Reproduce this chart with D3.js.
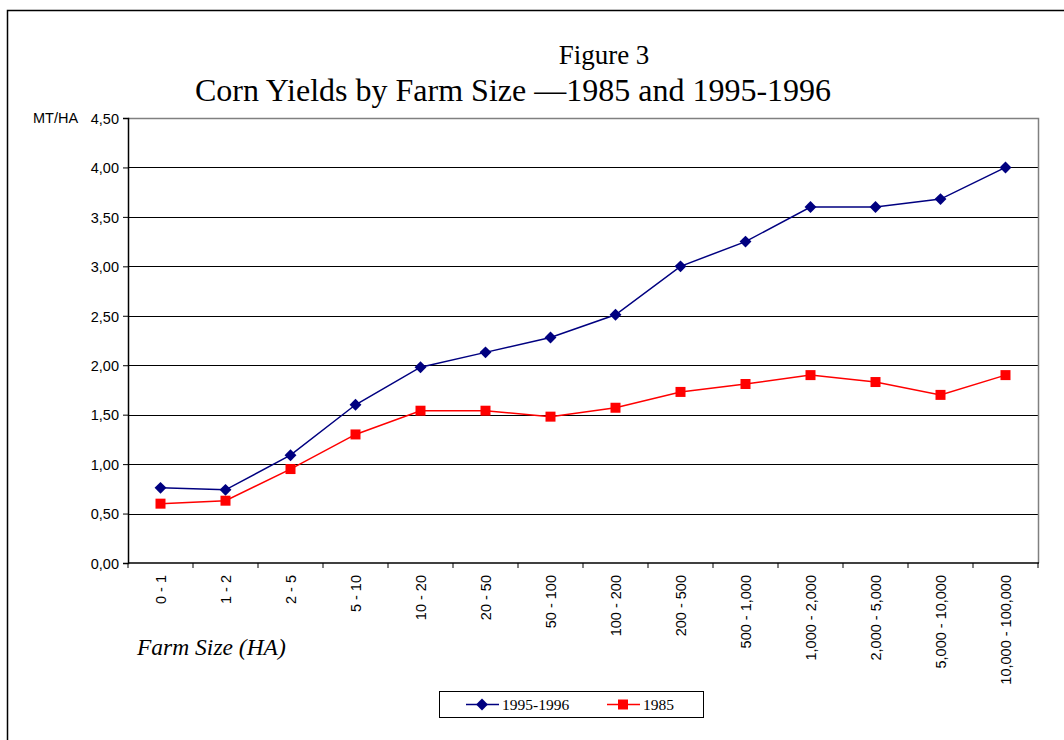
<!DOCTYPE html>
<html>
<head>
<meta charset="utf-8">
<script src="https://cdn.jsdelivr.net/npm/d3@7"></script>
<style>
	body { margin: 0; background: #fff; }
	svg { display: block; }
</style>
</head>
<body>
<div id="chart"></div>
<script>
// corn yields by farm size, two survey periods
const farmSizes = ['0 - 1', '1 - 2', '2 - 5', '5 - 10', '10 - 20', '20 - 50', '50 - 100', '100 - 200',
	'200 - 500', '500 - 1,000', '1,000 - 2,000', '2,000 - 5,000', '5,000 - 10,000', '10,000 - 100,000'];
const yields9596 = [0.76, 0.74, 1.09, 1.60, 1.98, 2.13, 2.28, 2.51, 3.00, 3.25, 3.60, 3.60, 3.68, 4.00];
const yields1985 = [0.60, 0.63, 0.95, 1.30, 1.54, 1.54, 1.48, 1.57, 1.73, 1.81, 1.90, 1.83, 1.70, 1.90];
const yTicks = [0, 0.5, 1, 1.5, 2, 2.5, 3, 3.5, 4, 4.5];

const series = [
	{name: '1995-1996', values: yields9596, color: '#000080', marker: d3.symbolDiamond2, size: 90},
	{name: '1985', values: yields1985, color: '#ff0000', marker: d3.symbolSquare, size: 100}
];

const width = 1064, height = 740;
const m = {top: 118, left: 128, right: 1038, bottom: 563};
const serif = '"Times New Roman", "Liberation Serif", serif';
const sans = 'Arial, "Liberation Sans", sans-serif';
const tickFont = '14.5px';

const svg = d3.select('#chart').append('svg')
	.attr('width', width)
	.attr('height', height);

// outer frame, runs off the right and bottom edges
svg.append('rect')
	.attr('x', 7.5).attr('y', 10.5)
	.attr('width', 1100).attr('height', 800)
	.attr('fill', 'none').attr('stroke', '#000').attr('stroke-width', 1.5);

//titles
svg.append('text')
	.attr('x', 604).attr('y', 64)
	.attr('text-anchor', 'middle')
	.style('font-family', serif).style('font-size', '27px')
	.text('Figure 3');
svg.append('text')
	.attr('x', 513).attr('y', 101)
	.attr('text-anchor', 'middle')
	.style('font-family', serif).style('font-size', '32px')
	.text('Corn Yields by Farm Size \u20141985 and 1995-1996');

const x = d3.scaleBand()
	.domain(farmSizes)
	.range([m.left, m.right]);

const y = d3.scaleLinear()
	.domain([0, 4.5])
	.range([m.bottom, m.top]);

const fmt = d => d3.format('.2f')(d).replace('.', ',');

// grid lines
svg.append('g')
	.selectAll('line')
	.data(yTicks.filter(d => d > 0 && d < 4.5))
	.join('line')
	.attr('x1', m.left).attr('x2', m.right)
	.attr('y1', d => Math.round(y(d)) + 0.5).attr('y2', d => Math.round(y(d)) + 0.5)
	.attr('stroke', '#000').attr('stroke-width', 1);

// plot frame top and right
svg.append('path')
	.attr('d', `M${m.left},${m.top + 0.5}H${m.right + 0.5}V${m.bottom}`)
	.attr('fill', 'none').attr('stroke', '#808080').attr('stroke-width', 1.5);

// y axis
const yAxis = svg.append('g')
	.attr('transform', `translate(${m.left},0)`)
	.call(d3.axisLeft(y).tickValues(yTicks).tickFormat(fmt).tickSize(5).tickPadding(4));
yAxis.attr('font-family', sans).attr('font-size', tickFont);
yAxis.select('.domain').attr('stroke', '#000').attr('stroke-width', 1.5);
yAxis.selectAll('.tick line').attr('stroke', '#000');
yAxis.selectAll('.tick text').attr('fill', '#000').attr('dy', '0.36em');

svg.append('text')
	.attr('x', 33).attr('y', y(4.5) + 5)
	.style('font-family', sans).style('font-size', tickFont)
	.text('MT/HA');

// x axis, ticks at category boundaries
const xAxis = svg.append('g')
	.attr('transform', `translate(0,${m.bottom})`);
xAxis.append('line')
	.attr('x1', m.left).attr('x2', m.right + 1)
	.attr('stroke', '#000').attr('stroke-width', 1.5);
xAxis.selectAll('.bnd')
	.data(farmSizes.concat(['end']))
	.join('line')
	.attr('class', 'bnd')
	.attr('x1', (d, i) => m.left + i * x.step())
	.attr('x2', (d, i) => m.left + i * x.step())
	.attr('y1', 0).attr('y2', 5)
	.attr('stroke', '#000');
xAxis.selectAll('.lbl')
	.data(farmSizes)
	.join('text')
	.attr('class', 'lbl')
	.attr('transform', d => `translate(${x(d) + x.bandwidth() / 2 + 5},12) rotate(-90)`)
	.attr('text-anchor', 'end')
	.style('font-family', sans).style('font-size', tickFont)
	.text(d => d);

svg.append('text')
	.attr('x', 137).attr('y', 655)
	.style('font-family', serif).style('font-size', '23.5px').style('font-style', 'italic')
	.text('Farm Size (HA)');

// lines + markers
const line = d3.line()
	.x((d, i) => x(farmSizes[i]) + x.bandwidth() / 2)
	.y(d => y(d));

series.forEach(function(s){
	svg.append('path')
		.datum(s.values)
		.attr('d', line)
		.attr('fill', 'none')
		.attr('stroke', s.color)
		.attr('stroke-width', 1.5);
	svg.append('g')
		.selectAll('path')
		.data(s.values)
		.join('path')
		.attr('transform', (d, i) => `translate(${x(farmSizes[i]) + x.bandwidth() / 2},${y(d)})`)
		.attr('d', d3.symbol().type(s.marker).size(s.size))
		.attr('fill', s.color);
});

// legend
const legend = svg.append('g');
legend.append('rect')
	.attr('x', 439.5).attr('y', 691.5)
	.attr('width', 264).attr('height', 26)
	.attr('fill', '#fff').attr('stroke', '#000');
const legendX = [466, 607];
series.forEach(function(s, i){
	const lx = legendX[i];
	legend.append('line')
		.attr('x1', lx).attr('x2', lx + 33)
		.attr('y1', 704.5).attr('y2', 704.5)
		.attr('stroke', s.color).attr('stroke-width', 1.5);
	legend.append('path')
		.attr('transform', `translate(${lx + 16},704.5)`)
		.attr('d', d3.symbol().type(s.marker).size(s.size))
		.attr('fill', s.color);
	legend.append('text')
		.attr('x', lx + 36).attr('y', 710)
		.style('font-family', serif).style('font-size', '15.5px')
		.text(s.name);
});
</script>
</body>
</html>
